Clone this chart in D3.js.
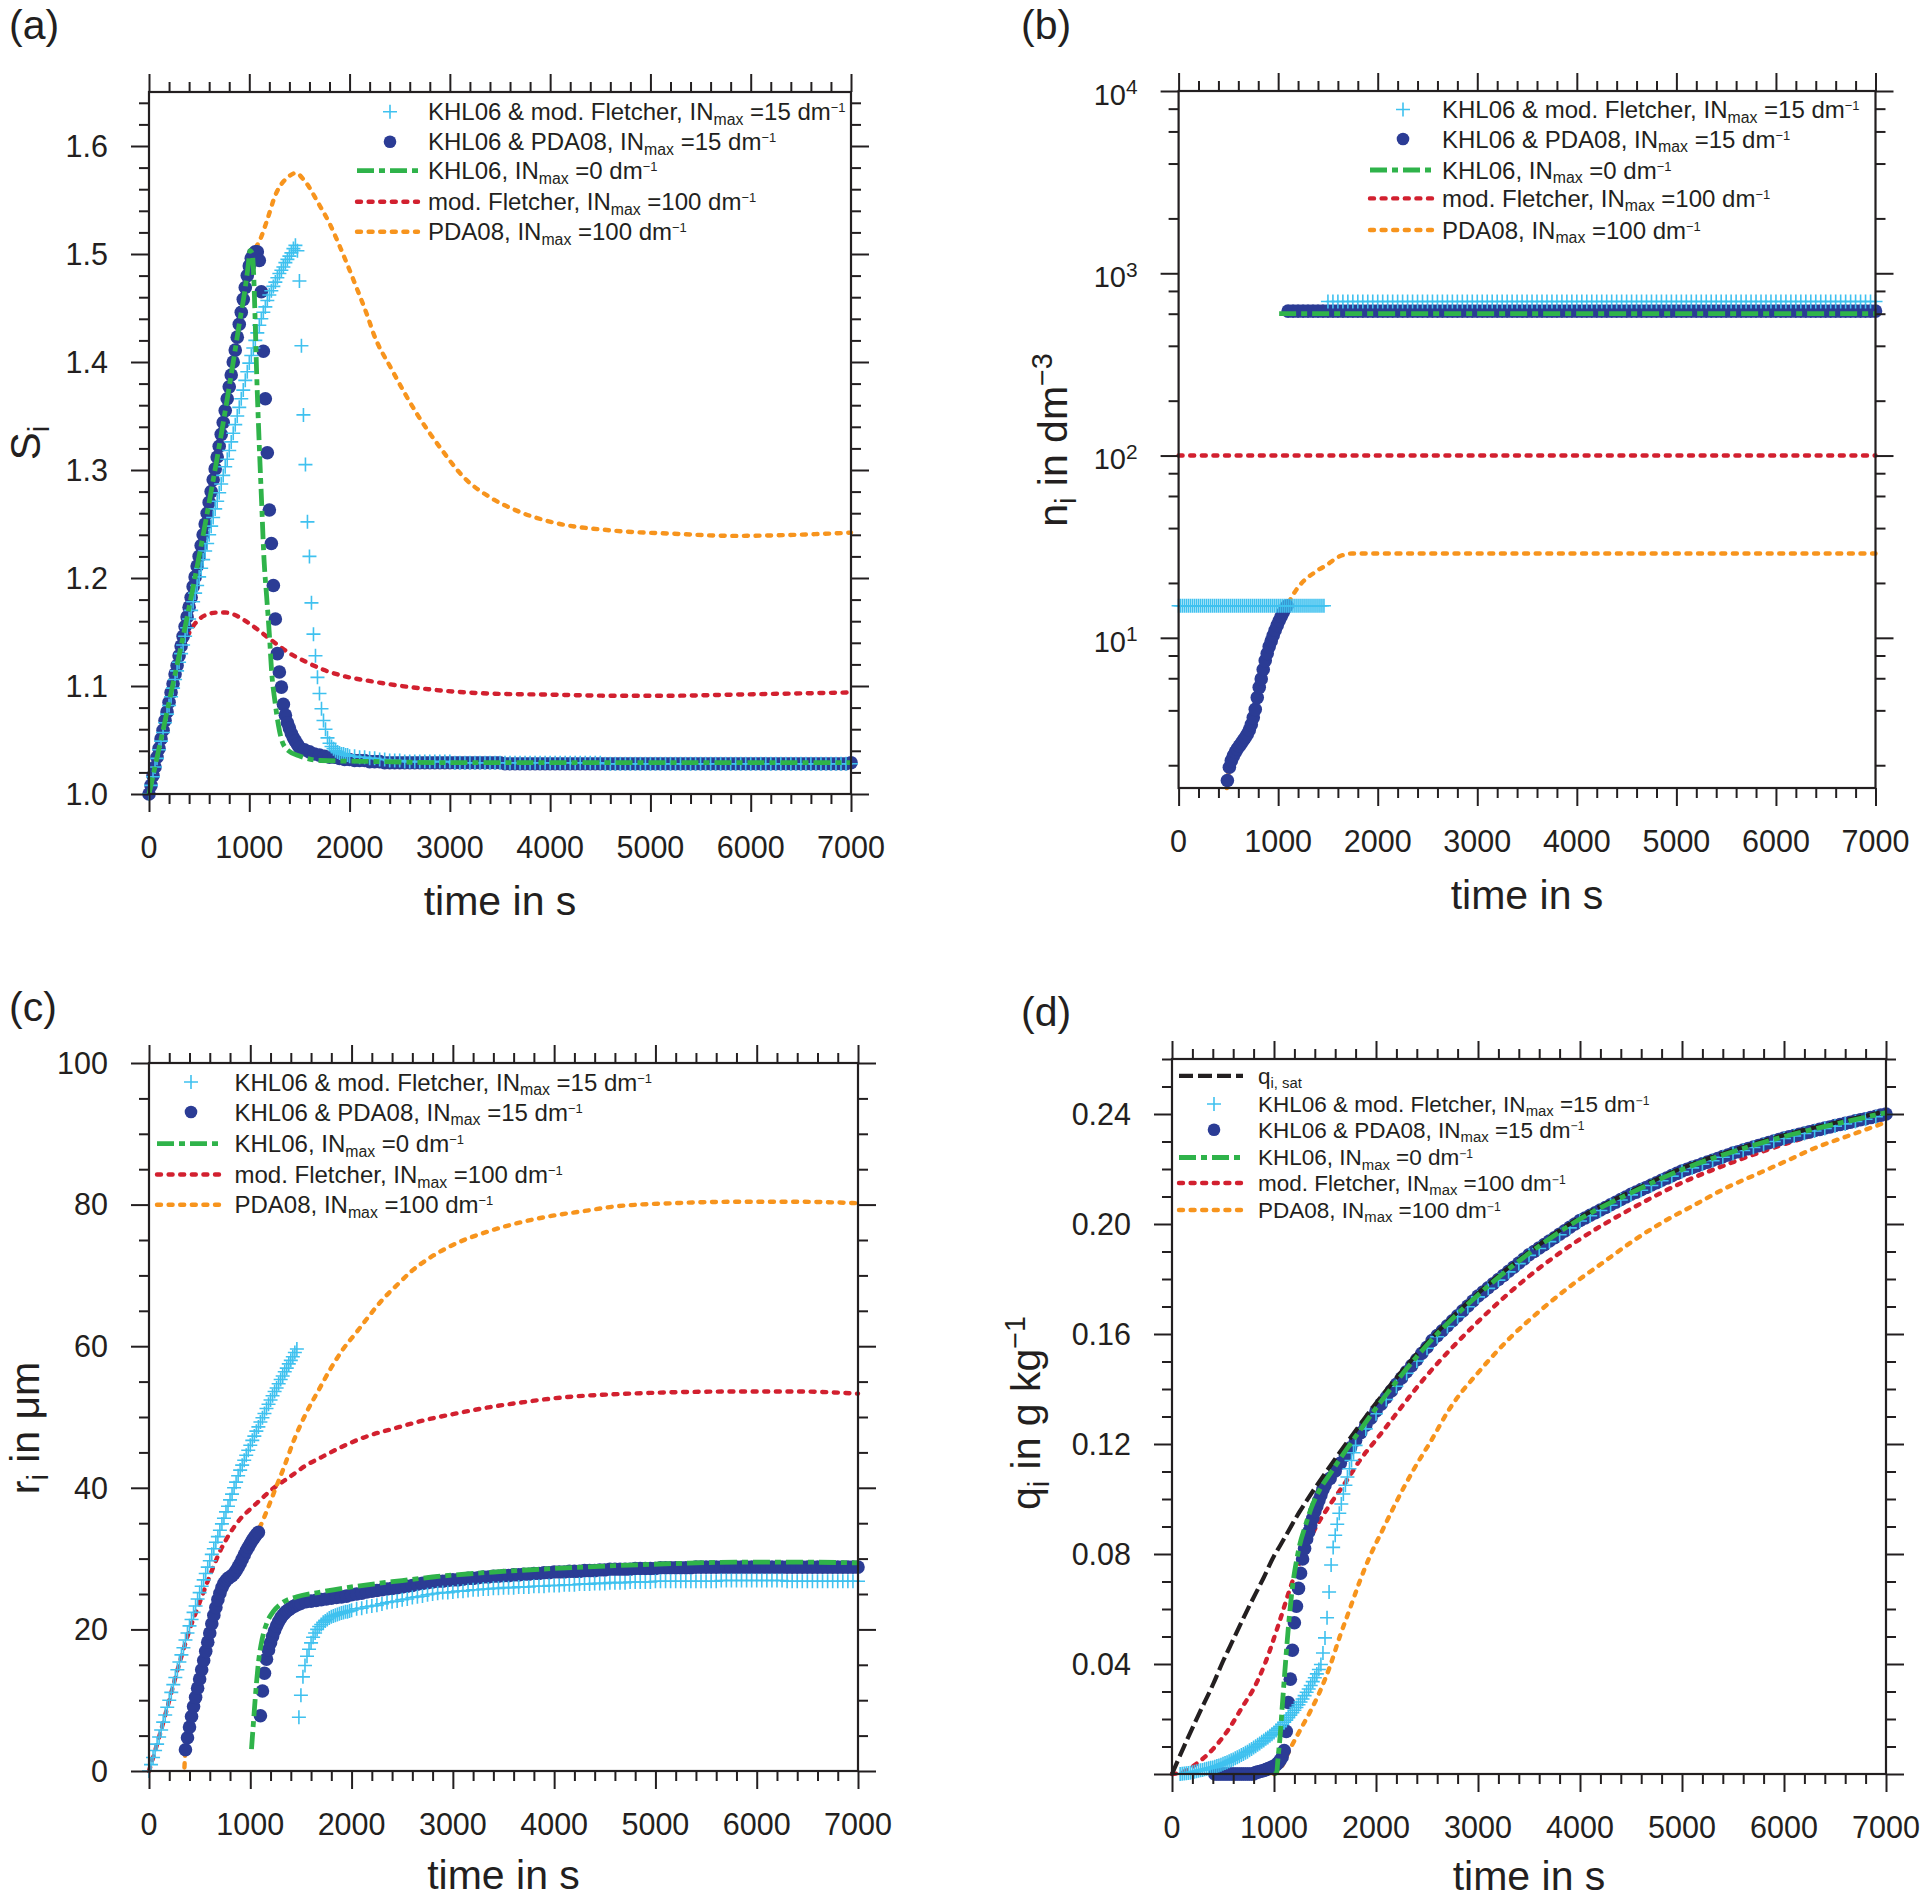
<!DOCTYPE html>
<html>
<head>
<meta charset="utf-8">
<script src="https://cdn.jsdelivr.net/npm/d3@7"></script>
<style>
  body { margin: 0; background: #fff; }
  svg { display: block; font-family: "Liberation Sans", Arial, Helvetica, sans-serif; }
  text { white-space: pre; }
</style>
</head>
<body>
<svg id="fig" width="1921" height="1900"></svg>
<script>
// time grid helper (sampling times of the model output)
const seg = (a, b, s) => d3.range(a, b + s / 2, s);

const xMajor = [0, 1000, 2000, 3000, 4000, 5000, 6000, 7000];
const xMinor = d3.range(0, 7001, 200).filter(v => v % 1000 !== 0);

// legend texts
const labCyan = "KHL06 & mod. Fletcher, IN_{max} =15 dm^{\u22121}";
const labBlue = "KHL06 & PDA08, IN_{max} =15 dm^{\u22121}";
const labGreen = "KHL06, IN_{max} =0 dm^{\u22121}";
const labRed = "mod. Fletcher, IN_{max} =100 dm^{\u22121}";
const labOrange = "PDA08, IN_{max} =100 dm^{\u22121}";
const labSat = "q_{i, sat}";

// ---------------- (a) S_i ----------------
const aYMajor = [1.0, 1.1, 1.2, 1.3, 1.4, 1.5, 1.6];
const aYMinor = d3.range(0, 33).filter(i => i % 5).map(i => +(1 + i * 0.02).toFixed(2));

const aBlueT = [...seg(0, 1500, 20), ...seg(1550, 7000, 50)];
const aBlueS = [
  1.000,1.008,1.017,1.025,1.034,1.042,1.051,1.059,1.068,1.076,
  1.085,1.094,1.102,1.111,1.119,1.128,1.137,1.146,1.155,1.164,
  1.173,1.182,1.192,1.201,1.211,1.220,1.230,1.240,1.250,1.260,
  1.270,1.280,1.291,1.301,1.312,1.322,1.333,1.344,1.355,1.366,
  1.377,1.388,1.400,1.411,1.423,1.435,1.446,1.458,1.469,1.480,
  1.489,1.496,1.500,1.502,1.502,1.494,1.465,1.410,1.366,1.316,
  1.263,1.232,1.193,1.162,1.130,1.113,1.099,1.083,1.073,1.066,
  1.061,1.056,1.052,1.049,1.046,1.043,
  1.041,1.039,1.037,1.036,1.035,1.034,1.034,1.033,1.032,1.032,
  1.031,1.031,1.031,1.030,1.030,1.030,1.029,1.029,1.029,1.029,
  1.029,1.029,1.029,1.029,1.029,1.029,1.029,1.029,1.029,1.029,
  1.029,1.029,1.029,1.029,1.029,1.029,1.029,1.029,1.029,1.029,
  1.028,1.028,1.028,1.028,1.028,1.028,1.028,1.028,1.028,1.028,
  1.028,1.028,1.028,1.028,1.028,1.028,1.028,1.028,1.028,1.028,
  1.028,1.028,1.028,1.028,1.028,1.028,1.028,1.028,1.028,1.028,
  1.028,1.028,1.028,1.028,1.028,1.028,1.028,1.028,1.028,1.028,
  1.028,1.028,1.028,1.028,1.028,1.028,1.028,1.028,1.028,1.028,
  1.028,1.028,1.028,1.028,1.028,1.028,1.028,1.028,1.028,1.028,
  1.028,1.028,1.028,1.028,1.028,1.028,1.028,1.028,1.028,1.029
];

const aCyanT = [...seg(0, 1460, 20), ...seg(1480, 2000, 20), ...seg(2050, 7000, 50)];
const aCyanS = [
  1.000,1.008,1.016,1.025,1.033,1.041,1.049,1.057,1.066,1.074,
  1.082,1.090,1.098,1.106,1.114,1.122,1.130,1.138,1.146,1.154,
  1.162,1.170,1.178,1.186,1.193,1.201,1.209,1.217,1.225,1.232,
  1.240,1.248,1.256,1.264,1.271,1.279,1.287,1.295,1.303,1.310,
  1.318,1.326,1.334,1.342,1.350,1.358,1.366,1.374,1.383,1.391,
  1.399,1.406,1.413,1.420,1.427,1.434,1.440,1.446,1.451,1.457,
  1.462,1.466,1.470,1.474,1.478,1.482,1.485,1.488,1.492,1.495,
  1.498,1.501,1.505,1.508,
  1.503,1.475,1.415,1.351,1.305,1.252,1.220,1.177,1.148,1.128,
  1.108,1.093,1.079,1.068,1.060,1.052,1.047,1.044,1.042,1.040,
  1.039,1.038,1.037,1.037,1.036,1.036,1.035,
  1.035,1.034,1.034,1.033,1.033,1.032,1.032,1.031,1.031,1.031,
  1.030,1.030,1.030,1.030,1.030,1.030,1.030,1.030,1.030,1.030,
  1.029,1.029,1.029,1.029,1.029,1.029,1.029,1.029,1.029,1.029,
  1.029,1.029,1.029,1.029,1.029,1.029,1.029,1.029,1.029,1.029,
  1.029,1.029,1.029,1.029,1.029,1.029,1.029,1.029,1.029,1.029,
  1.028,1.028,1.028,1.028,1.028,1.028,1.028,1.028,1.028,1.028,
  1.028,1.028,1.028,1.028,1.028,1.028,1.028,1.028,1.028,1.028,
  1.028,1.028,1.028,1.028,1.028,1.028,1.028,1.028,1.028,1.028,
  1.028,1.028,1.028,1.028,1.028,1.028,1.028,1.028,1.028,1.028,
  1.028,1.028,1.028,1.028,1.028,1.028,1.028,1.028,1.028,1.028
];

const aGreenT = [0,200,400,600,800,900,960,990,1007,1030,1045,1057,1073,1100,1123,1147,1173,1200,1223,1257,1290,1323,1390,1507,1707,2307,3000,4000,5000,6000,7000];
const aGreenS = [1.000,1.085,1.173,1.270,1.377,1.435,1.469,1.490,1.503,1.500,1.478,1.443,1.391,1.322,1.270,1.217,1.183,1.148,1.113,1.085,1.064,1.050,1.040,1.035,1.031,1.030,1.029,1.029,1.029,1.029,1.029];

const aRedT = [0,100,200,280,340,400,480,573,680,760,850,950,1073,1240,1407,1573,1740,1907,2240,2787,3396,4000,4616,5200,5835,6400,7000];
const aRedS = [1.000,1.042,1.085,1.115,1.135,1.149,1.160,1.166,1.168,1.168,1.166,1.161,1.153,1.141,1.130,1.122,1.115,1.110,1.104,1.097,1.093,1.092,1.091,1.091,1.092,1.093,1.094];

const aOrangeT = [0,200,400,600,800,1000,1050,1107,1173,1262,1384,1463,1550,1689,1807,1907,2073,2177,2240,2421,2665,2909,3152,3396,3701,4006,4616,5226,5835,6451,7000];
const aOrangeS = [1.000,1.085,1.173,1.270,1.377,1.489,1.503,1.513,1.530,1.555,1.571,1.575,1.568,1.547,1.527,1.506,1.468,1.443,1.426,1.393,1.353,1.320,1.292,1.275,1.261,1.252,1.244,1.241,1.239,1.240,1.242];

// ---------------- (b) n_i ----------------
const bYMajor = [10, 100, 1000, 10000];
const bYMinor = [2,4,6,8,20,40,60,80,200,400,600,800,2000,4000,6000,8000];

const bBlueT = [...seg(490, 1090, 20), ...seg(1100, 7000, 50)];
const bBlueN = [
  1.65,1.95,2.12,2.25,2.36,2.46,2.55,2.64,2.74,2.84,
  2.96,3.12,3.34,3.65,4.05,4.7,5.35,5.95,6.7,7.5,
  8.2,8.95,9.6,10.3,11.0,11.7,12.4,13.1,13.8,14.5,
  15.0,
  620,620,620,620,620,620,620,620,620,620,
  620,620,620,620,620,620,620,620,620,620,
  620,620,620,620,620,620,620,620,620,620,
  620,620,620,620,620,620,620,620,620,620,
  620,620,620,620,620,620,620,620,620,620,
  620,620,620,620,620,620,620,620,620,620,
  620,620,620,620,620,620,620,620,620,620,
  620,620,620,620,620,620,620,620,620,620,
  620,620,620,620,620,620,620,620,620,620,
  620,620,620,620,620,620,620,620,620,620,
  620,620,620,620,620,620,620,620,620,620,
  620,620,620,620,620,620,620,620,620
];

const bCyanT = [...seg(0, 1460, 20), ...seg(1500, 7000, 50)];
const bCyanN = [
  15,15,15,15,15,15,15,15,15,15,
  15,15,15,15,15,15,15,15,15,15,
  15,15,15,15,15,15,15,15,15,15,
  15,15,15,15,15,15,15,15,15,15,
  15,15,15,15,15,15,15,15,15,15,
  15,15,15,15,15,15,15,15,15,15,
  15,15,15,15,15,15,15,15,15,15,
  15,15,15,15,
  700,700,700,700,700,700,700,700,700,700,
  700,700,700,700,700,700,700,700,700,700,
  700,700,700,700,700,700,700,700,700,700,
  700,700,700,700,700,700,700,700,700,700,
  700,700,700,700,700,700,700,700,700,700,
  700,700,700,700,700,700,700,700,700,700,
  700,700,700,700,700,700,700,700,700,700,
  700,700,700,700,700,700,700,700,700,700,
  700,700,700,700,700,700,700,700,700,700,
  700,700,700,700,700,700,700,700,700,700,
  700,700,700,700,700,700,700,700,700,700,
  700
];

const bGreenT = [1010, 7000];
const bGreenN = [600, 600];
const bRedT = [0, 7000];
const bRedN = [100, 100];
const bOrangeT = [485,510,550,610,670,730,790,850,910,970,1030,1090,1135,1219,1300,1354,1420,1488,1560,1623,1680,1741,7000];
const bOrangeN = [1.5,1.95,2.25,2.55,2.84,3.34,4.7,6.7,8.95,11.0,13.1,15.0,16.7,19.5,21.5,22.6,23.9,25.1,26.8,28.1,28.7,29.0,29.0];

// ---------------- (c) r_i ----------------
const cYMajor = [0, 20, 40, 60, 80, 100];
const cYMinor = d3.range(0, 101, 5).filter(v => v % 20);

const cBlueT = [...seg(360, 1080, 20), ...seg(1100, 1500, 20), ...seg(1550, 7000, 50)];
const cBlueR = [
  3.0,4.7,6.2,7.7,9.1,10.4,11.7,13.0,14.3,15.6,
  16.9,18.2,19.5,20.8,22.0,23.1,24.2,25.1,25.9,26.5,
  26.9,27.2,27.4,27.6,27.9,28.3,28.8,29.3,29.9,30.5,
  31.1,31.6,32.1,32.6,33.0,33.4,33.7,
  7.8,11.3,13.8,15.8,17.1,18.1,19.0,19.8,20.5,21.1,
  21.6,22.0,22.3,22.6,22.8,23.0,23.2,23.3,23.5,23.6,
  23.7,
  23.9,24.0,24.1,24.2,24.3,24.4,24.5,24.6,24.7,24.9,
  25.0,25.1,25.3,25.4,25.5,25.6,25.7,25.8,25.9,26.0,
  26.1,26.2,26.4,26.5,26.6,26.7,26.8,26.8,26.9,27.0,
  27.0,27.1,27.2,27.2,27.3,27.4,27.4,27.5,27.5,27.6,
  27.6,27.7,27.7,27.8,27.8,27.9,27.9,28.0,28.0,28.1,
  28.1,28.1,28.2,28.2,28.2,28.3,28.3,28.3,28.4,28.4,
  28.5,28.5,28.5,28.5,28.5,28.6,28.6,28.6,28.6,28.6,
  28.7,28.7,28.7,28.7,28.7,28.7,28.7,28.8,28.8,28.8,
  28.8,28.8,28.8,28.8,28.8,28.8,28.8,28.8,28.8,28.8,
  28.8,28.8,28.8,28.8,28.8,28.8,28.8,28.8,28.8,28.8,
  28.8,28.8,28.8,28.8,28.8,28.8,28.8,28.8,28.8,28.8
];

const cCyanT = [...seg(0, 1460, 20), ...seg(1480, 2000, 20), ...seg(2050, 7000, 50)];
const cCyanR = [
  0.0,0.9,1.9,2.9,3.8,4.8,5.8,6.9,7.9,9.0,
  10.0,11.1,12.2,13.2,14.3,15.4,16.4,17.4,18.5,19.5,
  20.5,21.4,22.4,23.3,24.3,25.2,26.1,27.0,27.9,28.8,
  29.7,30.6,31.4,32.3,33.1,34.0,34.9,35.7,36.6,37.4,
  38.3,39.1,40.0,40.8,41.7,42.5,43.2,43.9,44.6,45.3,
  46.0,46.7,47.3,48.0,48.6,49.3,49.9,50.5,51.2,51.8,
  52.4,53.0,53.6,54.1,54.7,55.3,55.8,56.4,56.9,57.5,
  58.0,58.5,59.1,59.6,
  7.6,10.7,13.3,14.9,16.2,17.2,18.1,18.9,19.5,20.0,
  20.4,20.7,21.0,21.2,21.4,21.6,21.8,21.9,22.0,22.1,
  22.2,22.3,22.4,22.5,22.5,22.6,22.7,
  22.9,23.0,23.2,23.3,23.4,23.6,23.8,23.9,24.0,24.2,
  24.3,24.5,24.6,24.7,24.9,25.0,25.1,25.2,25.2,25.3,
  25.4,25.4,25.5,25.6,25.6,25.7,25.7,25.8,25.8,25.9,
  25.9,25.9,26.0,26.0,26.0,26.1,26.1,26.1,26.2,26.2,
  26.2,26.3,26.3,26.3,26.4,26.4,26.4,26.5,26.5,26.5,
  26.6,26.6,26.6,26.6,26.7,26.7,26.7,26.7,26.7,26.8,
  26.8,26.8,26.8,26.8,26.8,26.8,26.8,26.8,26.8,26.8,
  26.8,26.8,26.9,26.9,26.9,26.9,26.9,26.9,26.9,26.9,
  26.9,26.9,26.9,26.9,26.9,26.8,26.8,26.8,26.8,26.8,
  26.8,26.8,26.8,26.8,26.8,26.8,26.8,26.8,26.8,26.8
];

const cGreenT = [1012,1034,1058,1082,1117,1163,1226,1320,1460,1700,2100,2500,2800,3400,4000,4600,5200,5800,6400,7000];
const cGreenR = [3.1,7.4,11.9,15.5,18.6,20.9,22.5,23.8,24.6,25.3,26.2,26.9,27.4,28.1,28.6,29.0,29.3,29.5,29.5,29.4];

const cRedT = [0,100,200,274,350,406,466,571,707,800,901,1000,1100,1191,1396,1554,1700,1891,2158,2400,2763,3000,3368,3700,3972,4300,4577,5200,5786,6391,7000];
const cRedR = [0,4.8,10.0,13.9,17.6,20.2,22.5,26.5,31.2,33.6,35.6,37.0,38.3,39.5,41.6,43.2,44.3,45.7,47.3,48.3,49.7,50.4,51.4,52.1,52.6,53.0,53.2,53.5,53.6,53.6,53.3];

const cOrangeT = [350,358,400,500,600,700,800,900,1000,1100,1165,1252,1330,1433,1550,1675,1800,1917,2050,2158,2300,2460,2600,2763,3000,3368,3700,3972,4300,4577,5181,5786,6400,7000];
const cOrangeR = [0.5,2.8,6.2,13.0,19.5,25.1,27.4,29.3,32.1,34.6,36.8,40.0,42.8,46.8,50.5,53.8,57.0,59.6,62.0,64.0,66.5,68.8,70.7,72.4,74.3,76.3,77.6,78.4,79.1,79.7,80.2,80.4,80.4,80.2];

// ---------------- (d) q_i ----------------
const dYMajor = [0, 0.04, 0.08, 0.12, 0.16, 0.20, 0.24];
const dYLabels = [0.04, 0.08, 0.12, 0.16, 0.20, 0.24];
const dYMinor = d3.range(0, 27).filter(i => i % 4).map(i => i / 100);

const dSatT = [0,114,250,407,500,570,750,896,1000,1059,1250,1384,1500,1750,2000,2500,3000,3500,4000,4500,5000,5500,6000,6500,7000];
const dSatQ = [0,0.0097,0.0207,0.0330,0.0410,0.0465,0.0605,0.0712,0.0793,0.0830,0.0953,0.1030,0.1093,0.1223,0.1348,0.1568,0.1748,0.1898,0.2023,0.2118,0.2203,0.2268,0.2323,0.2368,0.2410];

const dBlueT = [...seg(420, 1500, 20), ...seg(1550, 7000, 50)];
const dBlueQ = [
  0,0,0,0,0,0,0,0,0,0,
  0,0,0,0,0,0,0,0,0,0,
  0.0005,0.0007,0.0009,0.0011,0.0013,0.0016,0.0019,0.0022,0.0025,0.0028,
  0.0033,0.0040,0.0050,0.0062,0.0085,0.0155,0.0260,0.0345,0.0450,0.0550,
  0.0610,0.0675,0.0730,0.0782,0.0820,0.0855,0.0880,0.0905,0.0930,0.0955,
  0.0975,0.0995,0.1015,0.1035,0.1050,
  0.1075,0.1102,0.1130,0.1158,0.1186,0.1214,0.1241,0.1268,0.1294,0.1320,
  0.1345,0.1369,0.1393,0.1417,0.1440,0.1463,0.1485,0.1507,0.1530,0.1552,
  0.1576,0.1594,0.1612,0.1630,0.1648,0.1666,0.1684,0.1702,0.1720,0.1738,
  0.1753,0.1768,0.1783,0.1798,0.1813,0.1828,0.1843,0.1858,0.1873,0.1888,
  0.1900,0.1913,0.1925,0.1938,0.1950,0.1963,0.1975,0.1988,0.2000,0.2013,
  0.2022,0.2032,0.2041,0.2051,0.2060,0.2070,0.2079,0.2089,0.2098,0.2108,
  0.2116,0.2125,0.2133,0.2142,0.2150,0.2159,0.2167,0.2176,0.2184,0.2193,
  0.2199,0.2206,0.2212,0.2219,0.2225,0.2232,0.2238,0.2245,0.2251,0.2258,
  0.2263,0.2269,0.2274,0.2280,0.2285,0.2291,0.2296,0.2302,0.2307,0.2313,
  0.2317,0.2322,0.2326,0.2331,0.2335,0.2340,0.2344,0.2349,0.2353,0.2358,
  0.2362,0.2366,0.2370,0.2375,0.2379,0.2383,0.2387,0.2392,0.2396,0.2400
];

const dCyanT = [...seg(80, 1800, 20), ...seg(1900, 7000, 100)];
const dCyanQ = [
  0.0000,0.0001,0.0002,0.0003,0.0004,0.0005,0.0006,0.0008,0.0010,0.0012,
  0.0014,0.0015,0.0017,0.0019,0.0021,0.0023,0.0024,0.0026,0.0029,0.0031,
  0.0034,0.0037,0.0040,0.0043,0.0046,0.0050,0.0053,0.0057,0.0061,0.0065,
  0.0069,0.0073,0.0077,0.0081,0.0086,0.0091,0.0096,0.0101,0.0106,0.0111,
  0.0117,0.0122,0.0128,0.0133,0.0139,0.0145,0.0151,0.0158,0.0165,0.0172,
  0.0180,0.0188,0.0196,0.0205,0.0214,0.0223,0.0232,0.0242,0.0252,0.0262,
  0.0273,0.0285,0.0297,0.0309,0.0322,0.0336,0.0350,0.0364,0.0380,0.0398,
  0.0440,0.0495,0.0568,0.0662,0.0760,0.0824,0.0868,0.0908,0.0948,0.0982,
  0.1018,0.1050,0.1080,0.1110,0.1140,0.1168,0.1195,
  0.1255,0.1310,0.1362,0.1410,0.1457,0.1502,0.1548,0.1590,0.1627,0.1663,
  0.1699,0.1735,0.1766,0.1796,0.1826,0.1856,0.1886,0.1911,0.1936,0.1961,
  0.1986,0.2011,0.2030,0.2049,0.2068,0.2087,0.2106,0.2123,0.2140,0.2157,
  0.2174,0.2191,0.2204,0.2217,0.2230,0.2243,0.2256,0.2267,0.2278,0.2289,
  0.2300,0.2311,0.2320,0.2329,0.2338,0.2347,0.2356,0.2364,0.2373,0.2381,
  0.2390,0.2398
];

const dGreenT = [1000,1026,1040,1059,1085,1107,1130,1156,1189,1221,1254,1303,1368,1450,1547,1710,1873,2000,2500,3000,3500,4000,4500,5000,5500,6000,6500,7000];
const dGreenQ = [0,0.0005,0.006,0.0133,0.0267,0.0376,0.0485,0.0594,0.0703,0.0776,0.0836,0.0897,0.0970,0.1035,0.1090,0.1180,0.1265,0.1330,0.1560,0.1742,0.1893,0.2018,0.2113,0.2198,0.2263,0.2318,0.2363,0.2405];

const dRedT = [0,100,250,400,550,700,800,910,1050,1190,1300,1400,1550,1700,1850,2000,2500,3000,3500,4000,4500,5000,5500,6000,6500,7000];
const dRedQ = [0,0.0006,0.004,0.009,0.016,0.025,0.031,0.040,0.055,0.071,0.081,0.089,0.098,0.106,0.1145,0.1215,0.145,0.1645,0.181,0.1945,0.2055,0.2150,0.2225,0.2290,0.2345,0.2395];

const dOrangeT = [1000,1080,1156,1254,1352,1450,1547,1645,1743,1840,1938,2068,2200,2374,2537,2725,3025,3325,3625,3926,4226,4526,4826,5126,5426,5726,6027,6327,6627,7000];
const dOrangeQ = [0,0.003,0.009,0.0158,0.0225,0.030,0.039,0.050,0.060,0.070,0.079,0.089,0.099,0.111,0.121,0.133,0.147,0.159,0.169,0.178,0.186,0.194,0.201,0.207,0.213,0.218,0.223,0.228,0.232,0.237];

// ---------------- drawing ----------------
const svg = d3.select("#fig");
const ink = "#231f20";
const tickFont = 30.5;
const plusPath = "M-7,0H7M0,-7V7";
const dotR = 6.8;

const styles = {
  blue:   { kind: "dot", fill: "#2b3c95" },
  cyan:   { kind: "plus", stroke: "#3fc1ef" },
  green:  { kind: "line", stroke: "#2fb34a", width: 4.8, dash: "17,5,6,5", cap: "butt" },
  red:    { kind: "line", stroke: "#d2202f", width: 4.4, dash: "4,7.6", cap: "round" },
  orange: { kind: "line", stroke: "#f7941d", width: 4.4, dash: "4,7.6", cap: "round" },
  black:  { kind: "line", stroke: ink, width: 4.2, dash: "14,5", cap: "butt" }
};

// text with _{sub} and ^{sup} parts
function richText(parent, str, size, subK = 0.68, supK = 0.56, subOff = 0.22, supOff = 0.36) {
  const t = parent.append("text").attr("font-size", size).attr("fill", ink);
  let cur = 0;
  str.split(/(_\{[^}]*\}|\^\{[^}]*\})/).filter(s => s).forEach(s => {
    let txt = s, off = 0, fs = size;
    if (s.startsWith("_{")) { txt = s.slice(2, -1); off = size * subOff; fs = size * subK; }
    else if (s.startsWith("^{")) { txt = s.slice(2, -1); off = -size * supOff; fs = size * supK; }
    t.append("tspan").attr("dy", off - cur).attr("font-size", fs).text(txt);
    cur = off;
  });
  return t;
}

function drawSeries(g, x, y, data, st) {
  if (st.kind === "dot") {
    g.append("g").selectAll("circle").data(data).join("circle")
      .attr("cx", d => x(d[0])).attr("cy", d => y(d[1])).attr("r", dotR).attr("fill", st.fill);
  } else if (st.kind === "plus") {
    g.append("g").selectAll("path").data(data).join("path")
      .attr("transform", d => `translate(${x(d[0])},${y(d[1])})`)
      .attr("d", plusPath).attr("fill", "none").attr("stroke", st.stroke).attr("stroke-width", 1.6);
  } else {
    const line = d3.line().x(d => x(d[0])).y(d => y(d[1])).curve(d3.curveMonotoneX);
    g.append("path").datum(data).attr("d", line).attr("fill", "none")
      .attr("stroke", st.stroke).attr("stroke-width", st.width)
      .attr("stroke-dasharray", st.dash).attr("stroke-linecap", st.cap);
  }
}

function axisTicks(g, axisFn, scale, transform, major, minor) {
  [[major, 18], [minor, 10]].forEach(([vals, len]) => {
    g.append("g").attr("transform", transform)
      .call(axisFn(scale).tickValues(vals).tickSize(len).tickSizeOuter(0).tickFormat(""))
      .call(a => a.select(".domain").remove())
      .call(a => a.selectAll("line").attr("stroke", ink).attr("stroke-width", 2));
  });
}

function panel(p) {
  const g = svg.append("g");
  const x = d3.scaleLinear().domain([0, 7000]).range([p.x0, p.x1]);
  const y = (p.log ? d3.scaleLog() : d3.scaleLinear()).domain(p.yDomain).range([p.y0, p.y1]);

  p.series.forEach(([key, T, V]) => drawSeries(g, x, y, d3.zip(T, V), styles[key]));

  g.append("rect").attr("x", p.x0).attr("y", p.y1)
    .attr("width", p.x1 - p.x0).attr("height", p.y0 - p.y1)
    .attr("fill", "none").attr("stroke", ink).attr("stroke-width", 2.2);

  axisTicks(g, d3.axisBottom, x, `translate(0,${p.y0})`, xMajor, xMinor);
  axisTicks(g, d3.axisTop, x, `translate(0,${p.y1})`, xMajor, xMinor);
  axisTicks(g, d3.axisLeft, y, `translate(${p.x0},0)`, p.yMajor, p.yMinor);
  axisTicks(g, d3.axisRight, y, `translate(${p.x1},0)`, p.yMajor, p.yMinor);

  g.append("g").selectAll("text").data(xMajor).join("text")
    .attr("x", d => x(d)).attr("y", p.y0 + 64).attr("text-anchor", "middle")
    .attr("font-size", tickFont).attr("fill", ink).text(d => d);

  p.yLabels.forEach(d => {
    const t = p.log
      ? richText(g, "10^{" + Math.round(Math.log10(d)) + "}", 29, 0.68, 0.72)
      : richText(g, p.fmt(d), tickFont);
    t.attr("x", p.x0 - 41).attr("y", y(d) + tickFont * 0.355 + (p.log ? 3 : 0)).attr("text-anchor", "end");
  });

  richText(g, "time in s", 41).attr("x", (p.x0 + p.x1) / 2).attr("y", p.xtY).attr("text-anchor", "middle");
  const yt = g.append("g").attr("transform", `translate(${p.ytX},${p.ytY}) rotate(-90)`);
  richText(yt, p.yTitle, p.ytSize, 0.7, 0.7).attr("text-anchor", "middle");

  g.append("text").attr("x", p.tagX).attr("y", p.tagY).attr("font-size", 41).attr("fill", ink).text(p.tag);

  const lf = p.legFont;
  p.legend.forEach(([key, label], i) => {
    const ry = p.legRows[i], st = styles[key];
    if (st.kind === "dot") {
      g.append("circle").attr("cx", p.legSym).attr("cy", ry).attr("r", 6.3).attr("fill", st.fill);
    } else if (st.kind === "plus") {
      g.append("path").attr("transform", `translate(${p.legSym},${ry})`).attr("d", plusPath)
        .attr("fill", "none").attr("stroke", st.stroke).attr("stroke-width", 1.6);
    } else {
      g.append("line").attr("x1", p.legLine[0]).attr("x2", p.legLine[1]).attr("y1", ry).attr("y2", ry)
        .attr("stroke", st.stroke).attr("stroke-width", st.width)
        .attr("stroke-dasharray", st.dash).attr("stroke-linecap", st.cap);
    }
    richText(g, label, lf, 0.66, 0.54, 0.19, 0.33).attr("x", p.legText).attr("y", ry + lf * 0.355);
  });
}

const legend5 = [["cyan", labCyan], ["blue", labBlue], ["green", labGreen], ["red", labRed], ["orange", labOrange]];

panel({
  tag: "(a)", tagX: 9, tagY: 39,
  x0: 149, x1: 851, y0: 794, y1: 92, yDomain: [1.0, 1.65],
  yMajor: aYMajor, yMinor: aYMinor, yLabels: aYMajor, fmt: d3.format(".1f"),
  xtY: 915,
  yTitle: "S_{i}", ytX: 40, ytY: 443, ytSize: 42,
  series: [["red", aRedT, aRedS], ["orange", aOrangeT, aOrangeS], ["blue", aBlueT, aBlueS],
           ["cyan", aCyanT, aCyanS], ["green", aGreenT, aGreenS]],
  legend: legend5, legRows: [111.7, 141.7, 170.7, 201.7, 231.7], legFont: 24,
  legSym: 390, legLine: [357, 418], legText: 428
});

panel({
  tag: "(b)", tagX: 1021, tagY: 39, log: true,
  x0: 1178.6, x1: 1875.5, y0: 788, y1: 91, yDomain: [1.5, 10000],
  yMajor: bYMajor, yMinor: bYMinor, yLabels: bYMajor,
  xtY: 909,
  yTitle: "n_{i} in dm^{\u22123}", ytX: 1067, ytY: 440, ytSize: 41,
  series: [["red", bRedT, bRedN], ["orange", bOrangeT, bOrangeN], ["blue", bBlueT, bBlueN],
           ["cyan", bCyanT, bCyanN], ["green", bGreenT, bGreenN]],
  legend: legend5, legRows: [109.5, 139, 170, 198.4, 230], legFont: 24,
  legSym: 1403, legLine: [1370, 1433], legText: 1442
});

panel({
  tag: "(c)", tagX: 9, tagY: 1021,
  x0: 149, x1: 858, y0: 1771, y1: 1063, yDomain: [0, 100],
  yMajor: cYMajor, yMinor: cYMinor, yLabels: cYMajor, fmt: d3.format("d"),
  xtY: 1889,
  yTitle: "r_{i} in \u03bcm", ytX: 39, ytY: 1428, ytSize: 41,
  series: [["red", cRedT, cRedR], ["orange", cOrangeT, cOrangeR], ["blue", cBlueT, cBlueR],
           ["cyan", cCyanT, cCyanR], ["green", cGreenT, cGreenR]],
  legend: legend5, legRows: [1082, 1112, 1143.6, 1174.5, 1204.7], legFont: 24,
  legSym: 191, legLine: [157, 219], legText: 234.5
});

panel({
  tag: "(d)", tagX: 1021, tagY: 1026,
  x0: 1172, x1: 1886, y0: 1774, y1: 1059, yDomain: [0, 0.26],
  yMajor: dYMajor, yMinor: dYMinor, yLabels: dYLabels, fmt: d3.format(".2f"),
  xtY: 1890,
  yTitle: "q_{i} in g kg^{\u22121}", ytX: 1040, ytY: 1413, ytSize: 41,
  series: [["red", dRedT, dRedQ], ["orange", dOrangeT, dOrangeQ], ["blue", dBlueT, dBlueQ],
           ["cyan", dCyanT, dCyanQ], ["black", dSatT, dSatQ], ["green", dGreenT, dGreenQ]],
  legend: [["black", labSat], ...legend5], legRows: [1075.8, 1104, 1129.7, 1157.5, 1183, 1210], legFont: 22.5,
  legSym: 1214, legLine: [1179, 1243], legText: 1258
});
</script>
</body>
</html>
